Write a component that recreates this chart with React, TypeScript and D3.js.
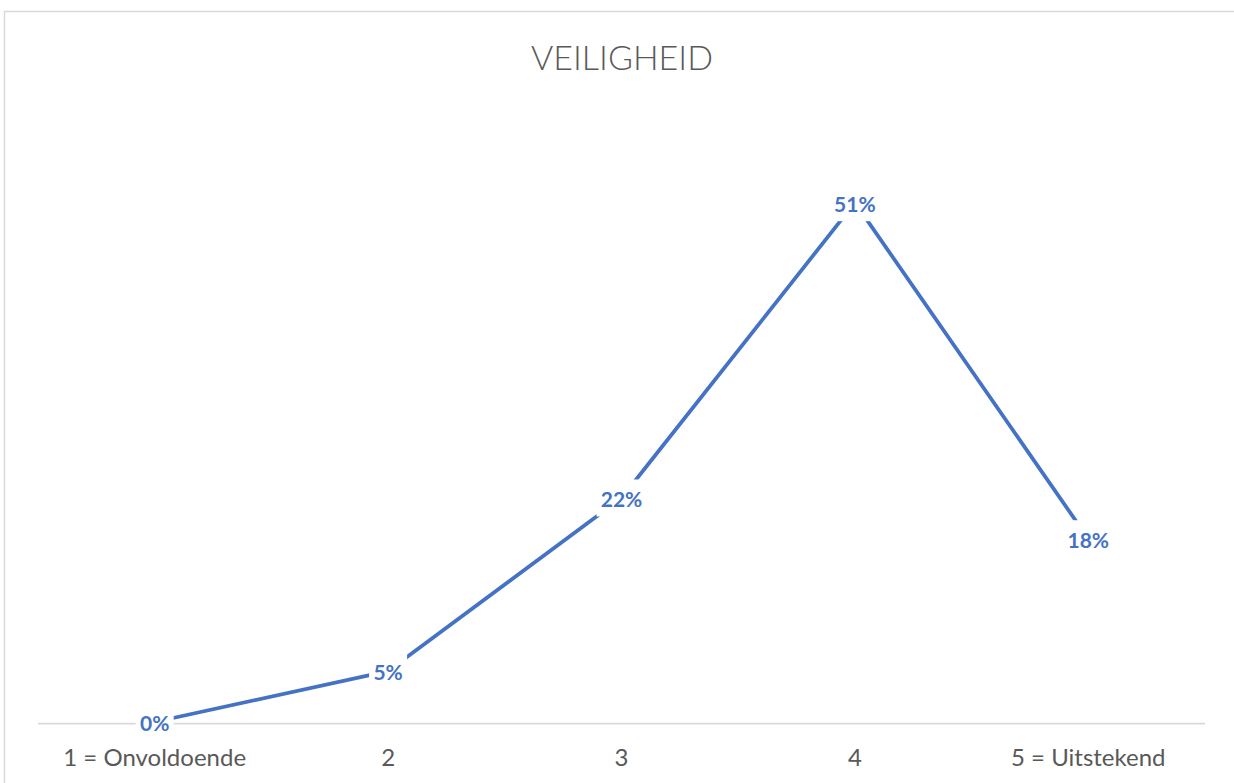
import React from "react";
import * as d3 from "d3";

const categories = ["1 = Onvoldoende", "2", "3", "4", "5 = Uitstekend"];
const values = [0, 0.05, 0.22, 0.51, 0.18];
const labels = ["0%", "5%", "22%", "51%", "18%"];
const title = "VEILIGHEID";

const W = 1234;
const H = 783;
const BLUE = "#4472C4";
const GRID = "#D9D9D9";
const TEXT = "#595959";
const FONT = "Lato, 'Open Sans', sans-serif";

export default function App() {
  const x = d3.scaleBand<string>().domain(categories).range([38, 1205]);
  const y = d3.scaleLinear().domain([0, 0.6]).range([722, 111]);
  const cx = (c: string) => (x(c) as number) + x.bandwidth() / 2;
  const line = d3
    .line<number>()
    .x((_, i) => cx(categories[i]))
    .y((d) => y(d));

  const labelFont = 21;
  const boxW = (s: string) => s.length * 12 + 14;
  const boxH = 37;

  return (
    <svg
      width={W}
      height={H}
      style={{ position: "absolute", left: 0, top: 0, background: "#fff" }}
    >
      <rect x={4.5} y={11.5} width={1400} height={1000} fill="#fff" stroke={GRID} strokeWidth={1.5} />
      <text
        x={622}
        y={70}
        textAnchor="middle"
        fontFamily={FONT}
        fontWeight={300}
        fontSize={34}
        fill={TEXT}
      >
        {title}
      </text>
      <line x1={38} x2={1205} y1={y(0) + 1.5} y2={y(0) + 1.5} stroke={GRID} strokeWidth={1.75} />
      {categories.map((c) => (
        <text
          key={c}
          x={cx(c)}
          y={766}
          textAnchor="middle"
          fontFamily={FONT}
          fontSize={24}
          fill={TEXT}
        >
          {c}
        </text>
      ))}
      <path d={line(values) || ""} fill="none" stroke={BLUE} strokeWidth={3.75} strokeLinejoin="round" />
      {values.map((v, i) => {
        const px = cx(categories[i]);
        const py = y(v);
        const w = boxW(labels[i]);
        return (
          <g key={i}>
            <rect x={px - w / 2} y={py - boxH / 2} width={w} height={boxH} fill="#fff" />
            <text
              x={px}
              y={py + 2}
              dy="0.35em"
              textAnchor="middle"
              fontFamily={FONT}
              fontWeight={700}
              fontSize={labelFont}
              fill={BLUE}
            >
              {labels[i]}
            </text>
          </g>
        );
      })}
    </svg>
  );
}
